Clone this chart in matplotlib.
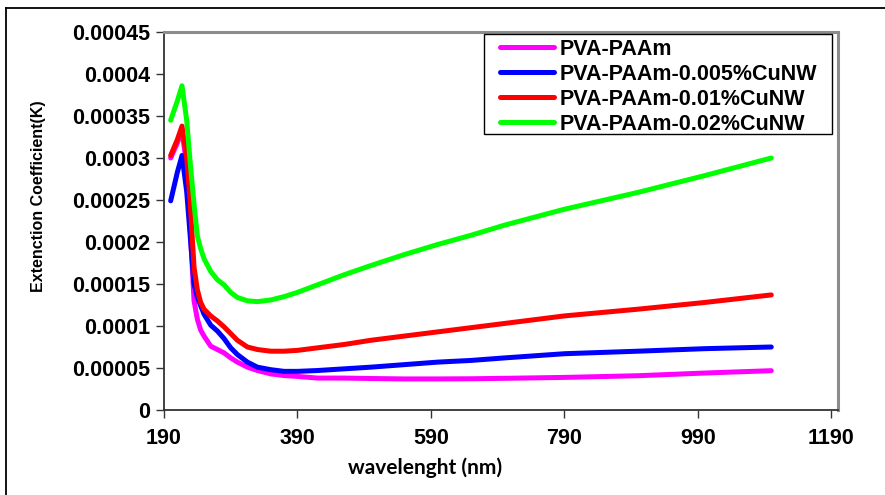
import numpy as np
import matplotlib
matplotlib.use("Agg")
import matplotlib.pyplot as plt
from matplotlib.lines import Line2D
from matplotlib.patches import Rectangle

# wavelength (nm)
wavelength = [200, 210, 217, 224, 229, 235, 240, 245, 250, 260, 270, 280, 290, 300, 315,
              330, 350, 370, 390, 420, 460, 500, 550, 600, 650, 700, 790, 900, 1000, 1100]

k_pva_paam = [0.0003, 0.000318, 0.000333, 0.00029, 0.00022, 0.00013, 0.000108, 0.000095,
              0.000088, 0.000076, 0.000072, 0.000068, 0.000062, 0.000057, 0.000051,
              0.000047, 0.000043, 0.000041, 0.00004, 0.000038, 0.000038, 0.0000375,
              0.000037, 0.000037, 0.0000372, 0.0000377, 0.0000388, 0.0000408, 0.000044,
              0.0000468]

k_005 = [0.000249, 0.000283, 0.000303, 0.00026, 0.00021, 0.00015, 0.000134, 0.000124,
         0.000114, 0.000101, 0.000094, 0.000085, 0.000074, 0.000066, 0.000057, 0.000051,
         0.000048, 0.000046, 0.000046, 0.000047, 0.000049, 0.000051, 0.000054, 0.000057,
         0.000059, 0.000062, 0.000067, 0.00007, 0.000073, 0.000075]

k_01 = [0.000303, 0.000322, 0.000338, 0.0003, 0.00025, 0.00017, 0.000143, 0.000128,
        0.00012, 0.000112, 0.000106, 0.000099, 0.000091, 0.000083, 0.000075, 0.000072,
        0.00007, 0.00007, 0.000071, 0.000074, 0.000078, 0.000083, 0.000088, 0.000093,
        0.000098, 0.000103, 0.000112, 0.00012, 0.000128, 0.000137]

k_02 = [0.000345, 0.000368, 0.000386, 0.000345, 0.000297, 0.000245, 0.000207, 0.000192,
        0.00018, 0.000165, 0.000155, 0.000149, 0.00014, 0.000134, 0.00013, 0.000129,
        0.000131, 0.000135, 0.00014, 0.000149, 0.000161, 0.000172, 0.000185, 0.000197,
        0.000208, 0.00022, 0.000239, 0.000259, 0.000279, 0.0003]

labels = ["PVA-PAAm", "PVA-PAAm-0.005%CuNW", "PVA-PAAm-0.01%CuNW", "PVA-PAAm-0.02%CuNW"]
colors = ["#FF00FF", "#0000FF", "#FF0000", "#00FF00"]

xticks = [190, 390, 590, 790, 990, 1190]
yticks = [0, 0.00005, 0.0001, 0.00015, 0.0002, 0.00025, 0.0003, 0.00035, 0.0004, 0.00045]
ytick_labels = ["0", "0.00005", "0.0001", "0.00015", "0.0002", "0.00025", "0.0003",
                "0.00035", "0.0004", "0.00045"]


def main():
    plt.rcParams['font.family'] = ['Liberation Sans', 'DejaVu Sans']
    plt.rcParams['font.weight'] = 'bold'

    fig = plt.figure(figsize=(8.85, 4.95), dpi=100)
    ax = fig.add_axes([164 / 885, 1 - 410 / 495, 674 / 885, 378 / 495])

    for y, lab, c in zip([k_pva_paam, k_005, k_01, k_02], labels, colors):
        ax.plot(wavelength, y, color=c, lw=3.6, label=lab,
                solid_capstyle='round', solid_joinstyle='round')

    ax.set_xlim(190, 1200)
    ax.set_ylim(0, 0.00045)
    ax.set_xticks(xticks)
    ax.set_xticklabels([str(t) for t in xticks])
    ax.set_yticks(yticks)
    ax.set_yticklabels(ytick_labels)

    ax.tick_params(axis='both', direction='out', length=6, width=1, color='#333333',
                   labelsize=15.5)
    ax.tick_params(axis='x', pad=7)
    ax.tick_params(axis='y', pad=4)

    for s in ['left', 'bottom']:
        ax.spines[s].set_color('#333333')
        ax.spines[s].set_linewidth(1.3)
    for s in ['top', 'right']:
        ax.spines[s].set_color('#8c8c8c')
        ax.spines[s].set_linewidth(2.2)

    ax.set_xlabel("wavelenght (nm)", family='Lato', fontsize=15, fontweight='bold')
    ax.xaxis.set_label_coords(0.387, -0.153)
    ax.xaxis.label.set_va('center')
    ax.set_ylabel("Extenction Coefficient(K)", fontsize=11.5, fontweight='bold')
    ax.yaxis.set_label_coords(-0.1855, 0.566)
    ax.yaxis.label.set_va('center')

    # legend box drawn by hand (Excel pads it unevenly)
    ax.add_patch(Rectangle((0.4748, 0.7302), 0.5163, 0.2645, transform=ax.transAxes,
                           facecolor='white', edgecolor='black', lw=1.0, zorder=4))
    leg = ax.legend(loc='upper left', bbox_to_anchor=(0.4985, 0.9815), fontsize=15.5,
                    frameon=False, borderaxespad=0, handlelength=2.5,
                    handletextpad=0.25, labelspacing=0.18, borderpad=0)
    leg.set_zorder(5)
    for line in leg.get_lines():
        line.set_linewidth(3.6)

    # outer frame of the chart
    fig.add_artist(Line2D([6 / 885, 6 / 885], [0, 1 - 8 / 495], color='black', lw=1.3))
    fig.add_artist(Line2D([6 / 885, 1], [1 - 8 / 495, 1 - 8 / 495], color='black', lw=1.3))

    fig.savefig("out.png", dpi=100)


if __name__ == '__main__':
    main()
